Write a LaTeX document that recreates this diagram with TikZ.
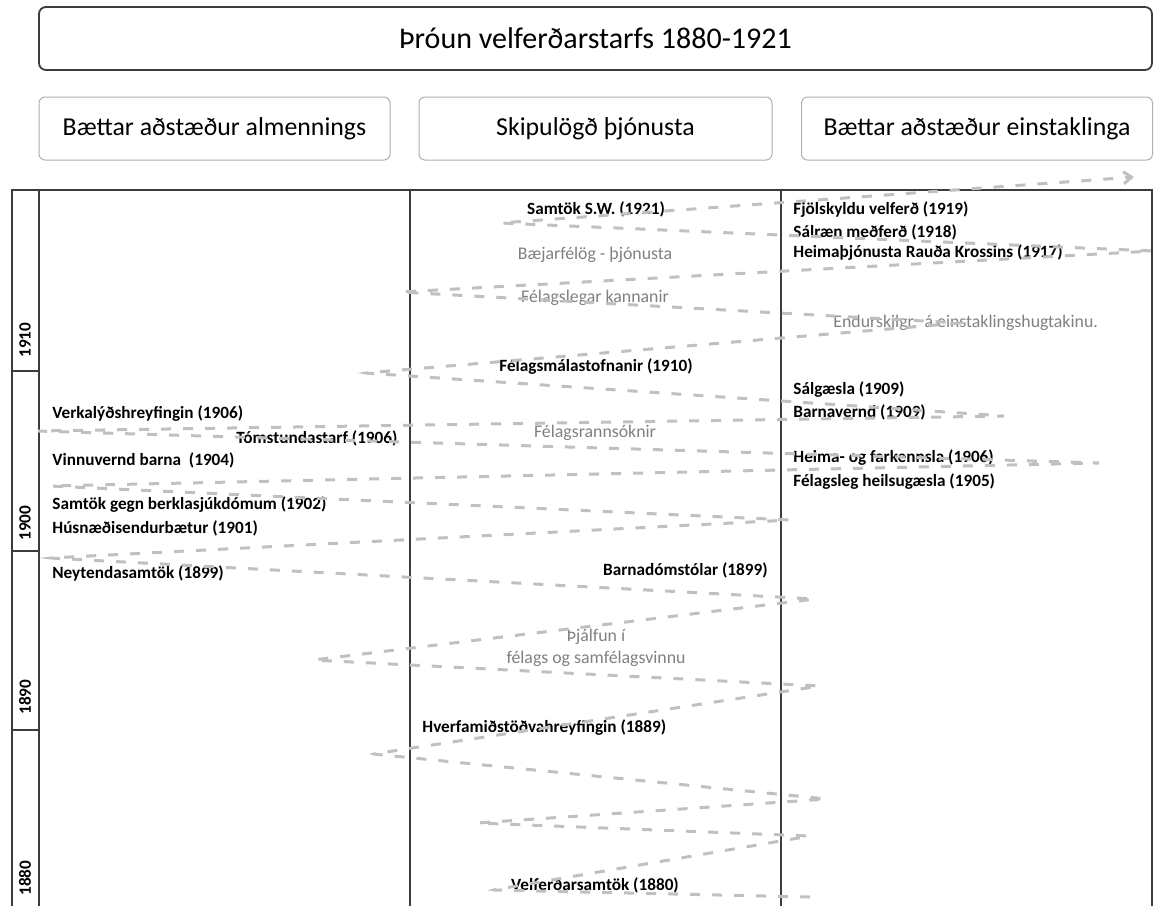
\documentclass[tikz,border=0pt]{standalone}
\usepackage{fontspec}
\setmainfont{Carlito}
\usetikzlibrary{arrows.meta}
\definecolor{framegray}{RGB}{60,60,60}
\definecolor{boxgray}{RGB}{175,175,175}
\definecolor{themegray}{RGB}{128,128,128}
\definecolor{dashgray}{RGB}{192,192,192}
\tikzset{
  titlebox/.style={draw=framegray, line width=0.9pt, rounded corners=3.5pt,
    minimum width=556.5pt, minimum height=31.5pt, font=\fontsize{15}{18}\selectfont},
  headbox/.style={draw=boxgray, line width=0.5pt, rounded corners=3pt,
    minimum width=175.5pt, minimum height=31.5pt, font=\fontsize{12.9}{15}\selectfont},
  frame/.style={draw=framegray, line width=0.8pt},
  year/.style={rotate=90, inner sep=0pt, font=\bfseries\fontsize{8.6}{10}\selectfont},
  event/.style={inner sep=0pt, font=\bfseries\fontsize{8.6}{10}\selectfont},
  theme/.style={inner sep=0pt, text=themegray, font=\fontsize{8.9}{11}\selectfont},
  zigzag/.style={draw=dashgray, line width=1.5pt, dash pattern=on 5pt off 6pt,
    rounded corners=1pt, -{Straight Barb[length=4pt,width=6pt]}}
}
\begin{document}
\begin{tikzpicture}[x=0.5pt,y=-0.5pt]
\useasboundingbox (0,0) rectangle (1155,906);
\node[titlebox] (title) at (595.5,38.5) {Þróun velferðarstarfs 1880-1921};
\node[headbox] (almenn) at (214.5,128.5) {Bættar aðstæður almennings};
\node[headbox, minimum width=176.5pt] (thjon) at (595.5,128.5) {Skipulögð þjónusta};
\node[headbox] (einst) at (977,128.5) {Bættar aðstæður einstaklinga};

\draw[frame] (12,906) -- (12,190) -- (1152,190) -- (1152,906);
\foreach \x in {39,410,781}
    \draw[frame] (\x,190) -- (\x,906);
\foreach \y in {371,551,730}
    \draw[frame] (12,\y) -- (39,\y);
\foreach \yr/\y in {1910/340,1900/523,1890/697,1880/878}
    \node[year] (y\yr) at (25,\y) {\yr};

\node[event, anchor=west] (verkal) at (52,414) {Verkalýðshreyfingin (1906)};
\node[event, anchor=west] (tomst) at (236,438) {Tómstundastarf (1906)};
\node[event, anchor=west] (vinnuv) at (52,460) {Vinnuvernd barna\ \ (1904)};
\node[event, anchor=west] (berkla) at (52,505) {Samtök gegn berklasjúkdómum (1902)};
\node[event, anchor=west] (husnad) at (52,528) {Húsnæðisendurbætur (1901)};
\node[event, anchor=west] (neyt) at (52,573) {Neytendasamtök (1899)};

\node[event] (samtsw) at (596,209) {Samtök S.W. (1921)};
\node[theme] (baejar) at (595,255) {Bæjarfélög - þjónusta};
\node[theme] (kannan) at (595,298) {Félagslegar kannanir};
\node[event] (felmal) at (596,367) {Félagsmálastofnanir (1910)};
\node[theme] (felrann) at (595,433) {Félagsrannsóknir};
\node[event, anchor=east] (barnad) at (768,570) {Barnadómstólar (1899)};
\node[theme, align=center] (thjalf) at (596,648) {Þjálfun í\\félags og samfélagsvinnu};
\node[event, anchor=west] (hverfa) at (422,728) {Hverfamiðstöðvahreyfingin (1889)};
\node[event] (velfsam) at (595,885) {Velferðarsamtök (1880)};

\node[event, anchor=west] (fjolsk) at (793,210) {Fjölskyldu velferð (1919)};
\node[event, anchor=west] (salraen) at (793,232) {Sálræn meðferð (1918)};
\node[event, anchor=west] (heimath) at (793,253) {Heimaþjónusta Rauða Krossins (1917)};
\node[theme, anchor=west] (endursk) at (833,323) {Endurskilgr.\ \ á einstaklingshugtakinu.};
\node[event, anchor=west] (salgaes) at (793,390) {Sálgæsla (1909)};
\node[event, anchor=west] (barnav) at (793,412) {Barnavernd (1909)};
\node[event, anchor=west] (heimaf) at (793,458) {Heima- og farkennsla (1906)};
\node[event, anchor=west] (felheil) at (793,482) {Félagsleg heilsugæsla (1905)};

\draw[zigzag] (810,897) -- (493,890) -- (810,836) -- (477,823) -- (827,799)
    -- (373,754) -- (820,686) -- (313,660) -- (815,599) -- (50,558)
    -- (790,520) -- (50,486) -- (1100,463) -- (37,431) -- (1005,416)
    -- (365,373) -- (960,323) -- (400,292) -- (1153,251) -- (500,223)
    -- (1134,177);
\end{tikzpicture}
\end{document}
